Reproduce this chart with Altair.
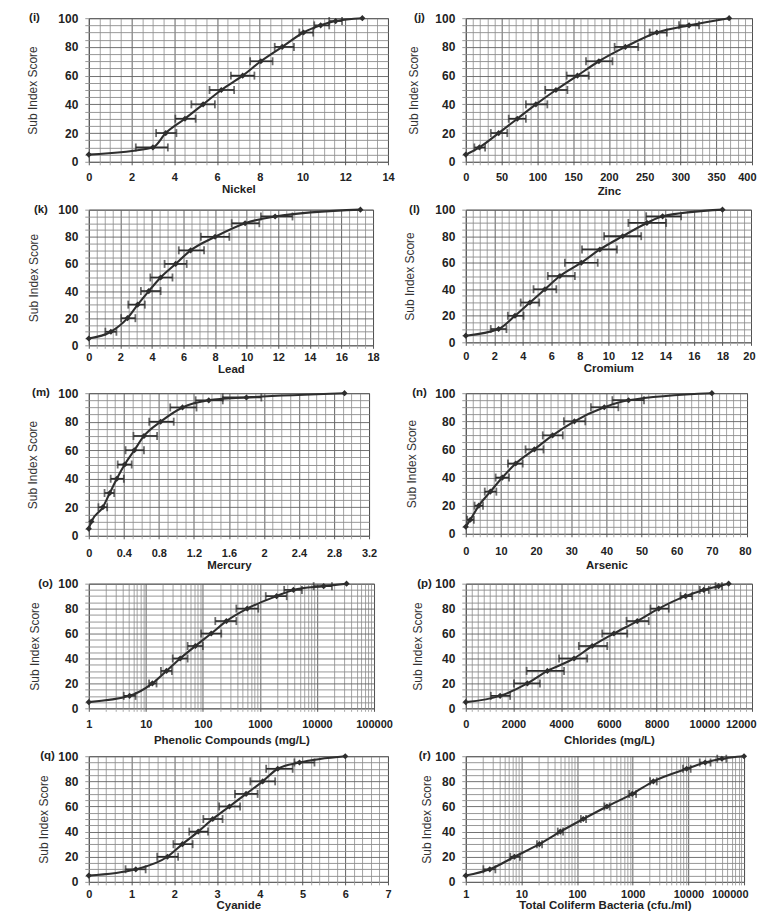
import altair as alt
import pandas as pd

# ---------------- data ----------------
Y13 = [5, 10, 20, 30, 40, 50, 60, 70, 80, 90, 95, 98, 100]
Y12 = [5, 10, 20, 30, 40, 50, 60, 70, 80, 90, 95, 100]
Y13m = [5, 10, 20, 30, 40, 50, 60, 70, 80, 90, 95, 97, 100]

nickel_x = [0, 3.0, 3.6, 4.5, 5.35, 6.2, 7.2, 8.05, 9.05, 10.05, 10.85, 11.55, 12.8]
nickel_lo = [None, 2.2, 3.15, 4.05, 4.8, 5.65, 6.65, 7.55, 8.7, 9.85, 10.55, 11.25, None]
nickel_hi = [None, 3.7, 4.1, 5.0, 5.9, 6.8, 7.75, 8.6, 9.6, 10.5, 11.25, 11.85, None]

zinc_x = [0, 19, 46, 72, 98, 126, 156, 186, 223, 267, 312, 368]
zinc_lo = [None, 12, 35, 60, 84, 111, 141, 168, 208, 257, 298, None]
zinc_hi = [None, 27, 58, 84, 114, 142, 172, 205, 241, 281, 326, None]

lead_x = [0, 1.4, 2.45, 3.1, 3.8, 4.55, 5.5, 6.45, 8.0, 9.9, 11.8, 17.2]
lead_lo = [None, 1.05, 2.05, 2.5, 3.3, 3.9, 4.8, 5.7, 7.1, 9.05, 10.9, None]
lead_hi = [None, 1.75, 2.95, 3.55, 4.55, 5.3, 6.2, 7.3, 8.9, 10.8, 12.9, None]

crom_x = [0, 2.3, 3.45, 4.5, 5.55, 6.6, 8.1, 9.4, 11.0, 12.7, 13.8, 18]
crom_lo = [None, 1.75, 2.95, 3.85, 4.75, 5.75, 6.95, 8.15, 9.7, 11.4, 12.65, None]
crom_hi = [None, 2.85, 4.05, 5.15, 6.35, 7.65, 9.25, 10.6, 12.3, 14.05, 15.1, None]

merc_x = [0, 0.03, 0.16, 0.24, 0.32, 0.41, 0.52, 0.63, 0.82, 1.07, 1.37, 1.8, 2.92]
merc_lo = [None, None, 0.11, 0.18, 0.25, 0.33, 0.42, 0.51, 0.69, 0.93, 1.22, 1.53, None]
merc_hi = [None, None, 0.21, 0.29, 0.40, 0.49, 0.63, 0.78, 0.97, 1.23, 1.53, 1.97, None]

ars_x = [0, 1.3, 3.7, 7.0, 10.4, 14.2, 19.5, 24.7, 30.9, 39.4, 46.3, 70]
ars_lo = [None, 0.4, 2.5, 5.4, 8.5, 12.0, 17.0, 21.9, 27.9, 35.6, 41.7, None]
ars_hi = [None, 2.3, 4.9, 8.7, 12.3, 16.2, 22.1, 27.6, 34.0, 43.4, 50.7, None]

phen_x = [1, 5.2, 13, 23, 40, 74, 140, 258, 600, 1960, 3870, 13100, 33000]
phen_lo = [None, 4.1, 11.4, 18.4, 29.6, 54, 93, 165, 386, 1265, 2660, 8740, None]
phen_hi = [None, 6.6, 15.4, 28.7, 54, 100, 210, 386, 935, 2950, 5450, 18300, None]

chl_x = [0, 1440, 2580, 3420, 4540, 5300, 6210, 7190, 8090, 9210, 9980, 10600, 11020]
chl_lo = [None, 1050, 2020, 2550, 3910, 4740, 5720, 6740, 7740, 9000, 9810, 10470, None]
chl_hi = [None, 1860, 3110, 4120, 5090, 5930, 6770, 7670, 8510, 9490, 10190, 10740, None]

cyan_x = [0, 1.1, 1.84, 2.19, 2.56, 2.9, 3.29, 3.68, 4.07, 4.42, 4.93, 6.0]
cyan_lo = [None, 0.86, 1.6, 1.98, 2.35, 2.68, 3.05, 3.42, 3.78, 4.15, 4.81, None]
cyan_hi = [None, 1.33, 2.09, 2.43, 2.79, 3.13, 3.54, 3.95, 4.36, 4.77, 5.28, None]

coli_x = [1, 2.7, 7.5, 21, 50, 129, 344, 980, 2350, 9300, 20000, 40000, 100000]
coli_lo = [None, 2.07, 6.3, 19, 45, 117, 310, 860, 2050, 8000, 16000, 33000, None]
coli_hi = [None, 3.4, 9.4, 23.5, 56, 145, 385, 1150, 2700, 11000, 25000, 48000, None]


# grid / tick values
def lin_grid(end, step):
    n = int(round(end / step))
    return [round(i * step, 6) for i in range(n + 1)]


LOG_GRID = [m * 10 ** k for k in range(5) for m in range(1, 10)] + [100000]
Y_GRID = lin_grid(100, 5)

FONT = "Liberation Sans"
NARROW = "Liberation Sans Narrow, Liberation Sans"
INK = "#2e2e2e"

# lp/tp: x label / title padding; ytp: y title padding; ldx: panel letter offset
panels = [
    dict(letter="(i)", title="Nickel", x=nickel_x, lo=nickel_lo, hi=nickel_hi, y=Y13,
         domain=[0, 14], grid=lin_grid(14, 0.5), major=2, log=False, right=False,
         w=300, h=144, lp=6.5, tp=1, ytp=17.9, ldx=-49),
    dict(letter="(j)", title="Zinc", x=zinc_x, lo=zinc_lo, hi=zinc_hi, y=Y12,
         domain=[0, 400], grid=lin_grid(400, 10), major=50, log=False, right=True,
         w=287, h=144, lp=6.5, tp=3, ytp=13.9, ldx=-41),
    dict(letter="(k)", title="Lead", x=lead_x, lo=lead_lo, hi=lead_hi, y=Y12,
         domain=[0, 18], grid=lin_grid(18, 0.5), major=2, log=False, right=False,
         w=285, h=136, lp=3.5, tp=0.5, ytp=16.9, ldx=-41),
    dict(letter="(l)", title="Cromium", x=crom_x, lo=crom_lo, hi=crom_hi, y=Y12,
         domain=[0, 20], grid=lin_grid(20, 0.5), major=2, log=False, right=True,
         w=286, h=133, lp=5.5, tp=0.5, ytp=17.9, ldx=-46),
    dict(letter="(m)", title="Mercury", x=merc_x, lo=merc_lo, hi=merc_hi, y=Y13m,
         domain=[0, 3.2], grid=lin_grid(3.2, 0.1), major=0.4, log=False, right=False,
         w=281, h=143, lp=8.5, tp=1, ytp=18.9, ldx=-39),
    dict(letter="(n)", title="Arsenic", x=ars_x, lo=ars_lo, hi=ars_hi, y=Y12,
         domain=[0, 80], grid=lin_grid(80, 2), major=10, log=False, right=True,
         w=282, h=141, lp=8.5, tp=3, ytp=16.4, ldx=-39),
    dict(letter="(o)", title="Phenolic Compounds (mg/L)", x=phen_x, lo=phen_lo, hi=phen_hi, y=Y13,
         domain=[1, 100000], grid=LOG_GRID, major=None, log=True, right=False,
         w=286, h=125, lp=7.5, tp=5, ytp=15.9, ldx=-36),
    dict(letter="(p)", title="Chlorides (mg/L)", x=chl_x, lo=chl_lo, hi=chl_hi, y=Y13,
         domain=[0, 12000], grid=lin_grid(12000, 250), major=2000, log=False, right=True,
         w=287, h=125, lp=7.5, tp=5, ytp=9.9, ldx=-34),
    dict(letter="(q)", title="Cyanide", x=cyan_x, lo=cyan_lo, hi=cyan_hi, y=Y12,
         domain=[0, 7], grid=lin_grid(7, 0.2), major=1, log=False, right=False,
         w=300, h=126, lp=3.5, tp=0.5, ytp=6.9, ldx=-34),
    dict(letter="(r)", title="Total Coliferm Bacteria (cfu./ml)", x=coli_x, lo=coli_lo, hi=coli_hi, y=Y13,
         domain=[1, 100000], grid=LOG_GRID, major=None, log=True, right=True,
         w=279, h=126, lp=3.5, tp=0.5, ytp=1.5, ldx=-35),
]


def major_test(p):
    if p["log"]:
        return "abs(log(datum.value)/LN10 - round(log(datum.value)/LN10)) < 1e-6"
    m = p["major"]
    return f"abs(datum.value/{m} - round(datum.value/{m})) < 1e-6"


def make_panel(p):
    df = pd.DataFrame({"x": p["x"], "y": p["y"], "lo": p["lo"], "hi": p["hi"]})
    bars = df.dropna().copy()
    test = major_test(p)
    if p["log"]:
        xscale = alt.Scale(type="log", domain=p["domain"])
    else:
        xscale = alt.Scale(domain=p["domain"], nice=False, zero=False)
    last = p["domain"][1]
    if p["right"]:
        last_test = f"datum.value >= {last} * 0.999999"
        label_align = {"condition": {"test": last_test, "value": "right"}, "value": "center"}
        label_offset = {"condition": {"test": last_test, "value": 4}, "value": 0}
    else:
        label_align = "center"
        label_offset = 0
    xaxis = alt.Axis(
        values=p["grid"],
        labelExpr=f"({test}) ? format(datum.value, '~g') : ''",
        gridColor={"condition": {"test": test, "value": "#505050"}, "value": "#999999"},
        gridWidth=0.9, grid=True, domain=False,
        tickColor={"condition": {"test": test, "value": "#555"}, "value": "#aaa"},
        tickSize=3, labelPadding=p["lp"], titlePadding=p["tp"],
        labelOverlap=False, labelFlush=False, labelAlign=label_align, labelOffset=label_offset,
        labelFont=FONT, labelFontWeight="bold", labelFontSize=11, labelColor="#222",
        titleFont=FONT, titleFontWeight="bold", titleFontSize=11.5, titleColor="#222",
    )
    ytest = "datum.value % 20 === 0"
    yaxis = alt.Axis(
        values=Y_GRID,
        labelExpr=f"({ytest}) ? datum.label : ''",
        gridColor={"condition": {"test": ytest, "value": "#626262"}, "value": "#8c8c8c"},
        gridWidth=0.9, grid=True, domain=False,
        tickColor="#999", tickSize=4, labelPadding=7, titlePadding=p["ytp"],
        labelOverlap=False, labelFlush=False,
        labelFont=FONT, labelFontWeight="bold", labelFontSize=12, labelColor="#222",
        titleFont=NARROW, titleFontWeight="normal", titleFontSize=12, titleColor="#333",
    )

    def X(field):
        return alt.X(field, scale=xscale, axis=xaxis, title=p["title"])

    def Y(field):
        return alt.Y(field, scale=alt.Scale(domain=[0, 100], nice=False), axis=yaxis,
                     title="Sub Index Score")

    line = alt.Chart(df).mark_line(color=INK, strokeWidth=2.1, interpolate="monotone").encode(
        x=X("x:Q"), y=Y("y:Q"))
    rule = alt.Chart(bars).mark_rule(color=INK, strokeWidth=1.7).encode(
        x=X("lo:Q"), x2="hi:Q", y=Y("y:Q"))
    cap_lo = alt.Chart(bars).mark_tick(color=INK, orient="vertical", size=8, thickness=1.8).encode(
        x=X("lo:Q"), y=Y("y:Q"))
    cap_hi = alt.Chart(bars).mark_tick(color=INK, orient="vertical", size=8, thickness=1.8).encode(
        x=X("hi:Q"), y=Y("y:Q"))
    pts = alt.Chart(df).mark_point(shape="diamond", filled=True, color=INK, size=38, opacity=1).encode(
        x=X("x:Q"), y=Y("y:Q"))

    one = pd.DataFrame({"t": [p["letter"]]})
    letter = alt.Chart(one).mark_text(align="right", baseline="middle", font=FONT,
                                      fontWeight="bold", fontSize=11.5, color="#222").encode(
        x=alt.value(p["ldx"]), y=alt.value(0), text="t:N")

    return alt.layer(line, rule, cap_lo, cap_hi, pts, letter).properties(
        width=p["w"], height=p["h"])


chart = alt.concat(
    *[make_panel(p) for p in panels],
    columns=2,
    spacing={"row": 48, "column": 78},
    bounds="flush",
    align="each",
).properties(
    padding={"left": 17, "top": 2, "right": 0, "bottom": 0},
    background="white",
).configure_view(stroke="#555", strokeWidth=1)

chart.save("out.html", embed_options={"renderer": "svg", "actions": False})
